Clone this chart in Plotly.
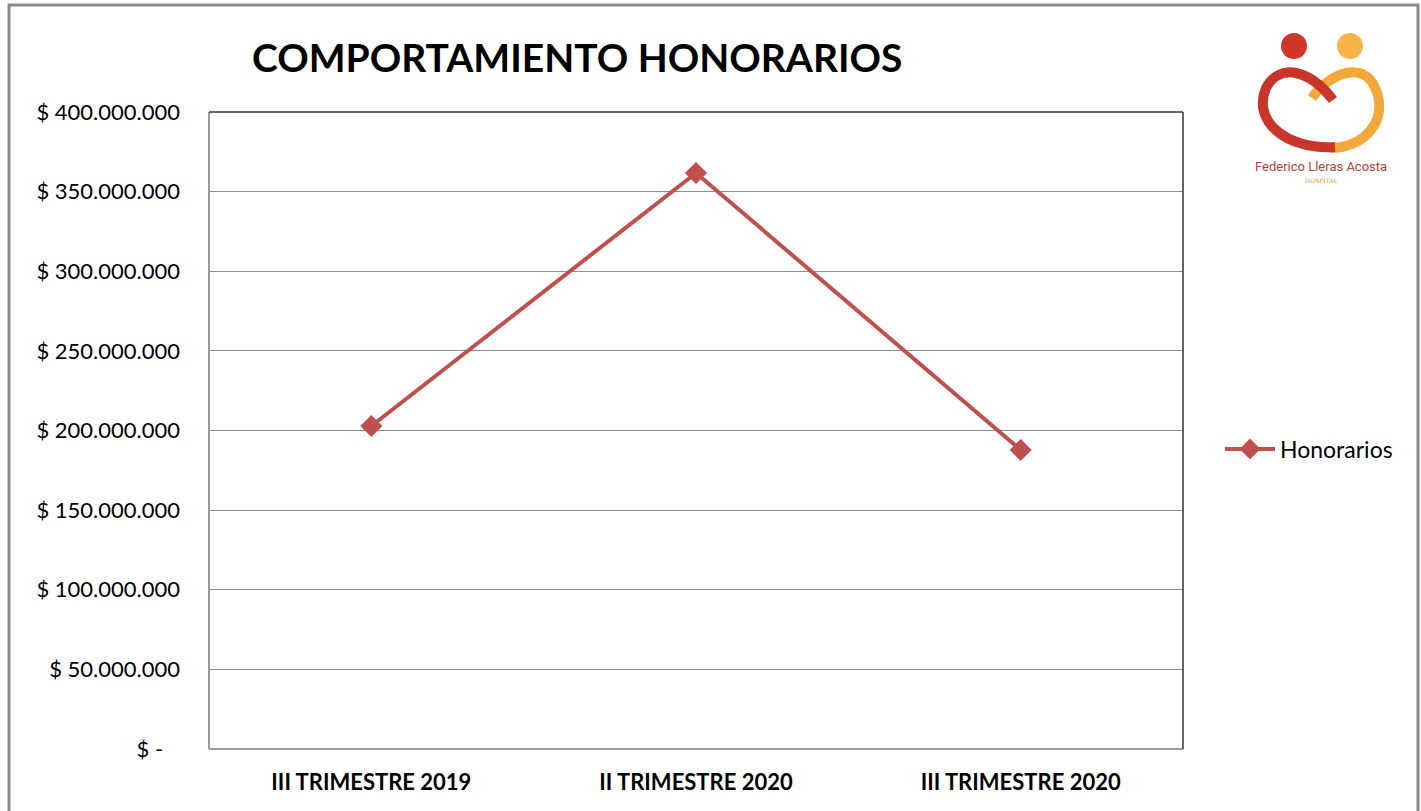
import plotly.graph_objects as go

categories = ["III TRIMESTRE 2019", "II TRIMESTRE 2020", "III TRIMESTRE 2020"]
honorarios = [202800000, 361700000, 187800000]
tick_vals = [0, 50000000, 100000000, 150000000, 200000000, 250000000, 300000000, 350000000, 400000000]
tick_text = ["$ -\u00a0\u00a0\u00a0", "$ 50.000.000", "$ 100.000.000", "$ 150.000.000", "$ 200.000.000",
             "$ 250.000.000", "$ 300.000.000", "$ 350.000.000", "$ 400.000.000"]

W, H = 1421, 811
L, R, T, B = 209, 1183, 112, 749
pw, ph = R - L, B - T

def px(x):
    return (x - L) / pw

def py(y):
    return (B - y) / ph

FONT = "Lato"

fig = go.Figure()
fig.add_trace(go.Scatter(
    x=categories, y=honorarios, mode="lines+markers", name="Honorarios",
    line=dict(color="#C0504D", width=4),
    marker=dict(symbol="diamond", size=17, color="#C0504D"),
))

shapes = []
# outer chart frame
shapes.append(dict(type="rect", xref="paper", yref="paper", x0=px(9), x1=px(1418), y0=py(830), y1=py(5),
                   line=dict(color="#8a8a8a", width=3), layer="below"))
# plot area border
shapes.append(dict(type="line", xref="paper", yref="paper", x0=0, x1=0, y0=0, y1=1, line=dict(color="#9a9a9a", width=2)))
shapes.append(dict(type="line", xref="paper", yref="paper", x0=0, x1=1, y0=0, y1=0, line=dict(color="#9a9a9a", width=2)))
shapes.append(dict(type="line", xref="paper", yref="paper", x0=0, x1=1, y0=1, y1=1, line=dict(color="#333333", width=1.5)))
shapes.append(dict(type="line", xref="paper", yref="paper", x0=1, x1=1, y0=0, y1=1, line=dict(color="#333333", width=1.5)))

# simplified logo
def circ(cx, cy, r, color):
    return dict(type="circle", xref="paper", yref="paper", x0=px(cx - r), x1=px(cx + r),
                y0=py(cy + r), y1=py(cy - r), fillcolor=color, line=dict(width=0))

def P(x, y):
    return f"{px(x):.5f},{py(y):.5f}"

shapes.append(circ(1294, 46, 13, "#d2362a"))
shapes.append(circ(1350, 46, 13, "#f7b548"))

org_d = f"M {P(1312, 98)} C {P(1330, 72)} {P(1365, 60)} {P(1376, 90)} C {P(1388, 120)} {P(1365, 148)} {P(1330, 148)}"
red_d = f"M {P(1333, 100)} C {P(1310, 70)} {P(1280, 62)} {P(1266, 88)} C {P(1252, 120)} {P(1285, 150)} {P(1335, 147)}"
shapes.append(dict(type="path", xref="paper", yref="paper", path=org_d, line=dict(color="#f4a83a", width=10)))
shapes.append(dict(type="path", xref="paper", yref="paper", path=red_d, line=dict(color="#c8352b", width=10)))

annotations = [
    dict(text="<b>COMPORTAMIENTO HONORARIOS</b>", xref="paper", yref="paper", x=px(577), y=py(57),
         xanchor="center", yanchor="middle", showarrow=False,
         font=dict(family=FONT, size=39, color="#000000")),
    dict(text="Federico Lleras Acosta", xref="paper", yref="paper", x=px(1321), y=py(166),
         xanchor="center", yanchor="middle", showarrow=False,
         font=dict(family="Liberation Sans Narrow, Roboto", size=13, color="#b2433b")),
    dict(text="HOSPITAL", xref="paper", yref="paper", x=px(1321), y=py(180),
         xanchor="center", yanchor="middle", showarrow=False,
         font=dict(family="DejaVu Serif", size=6, color="#e0952e")),
]

fig.update_layout(
    width=W, height=H,
    margin=dict(l=L, r=W - R, t=T, b=H - B, pad=0),
    paper_bgcolor="white", plot_bgcolor="white",
    font=dict(family=FONT, color="#000000"),
    showlegend=True,
    legend=dict(x=px(1220), y=py(449), xanchor="left", yanchor="middle",
                font=dict(family=FONT, size=23, color="#000000"),
                bgcolor="rgba(0,0,0,0)", itemwidth=50),
    xaxis=dict(type="category", range=[-0.5, 2.5], showgrid=False, zeroline=False,
               showline=False, ticks="", tickfont=dict(family=FONT, size=22, color="#000000", weight="bold"),
               ticklabelstandoff=18),
    yaxis=dict(range=[0, 400000000], tickvals=tick_vals, ticktext=tick_text,
               showgrid=True, gridcolor="#8c8c8c", gridwidth=1, zeroline=False, showline=False,
               ticks="", tickfont=dict(family=FONT, size=22, color="#000000"),
               ticklabelstandoff=28),
    shapes=shapes,
    annotations=annotations,
)

fig.write_html("out.html", config={"displayModeBar": False},
               post_script="document.body.style.margin='0';document.body.style.overflow='hidden';")
